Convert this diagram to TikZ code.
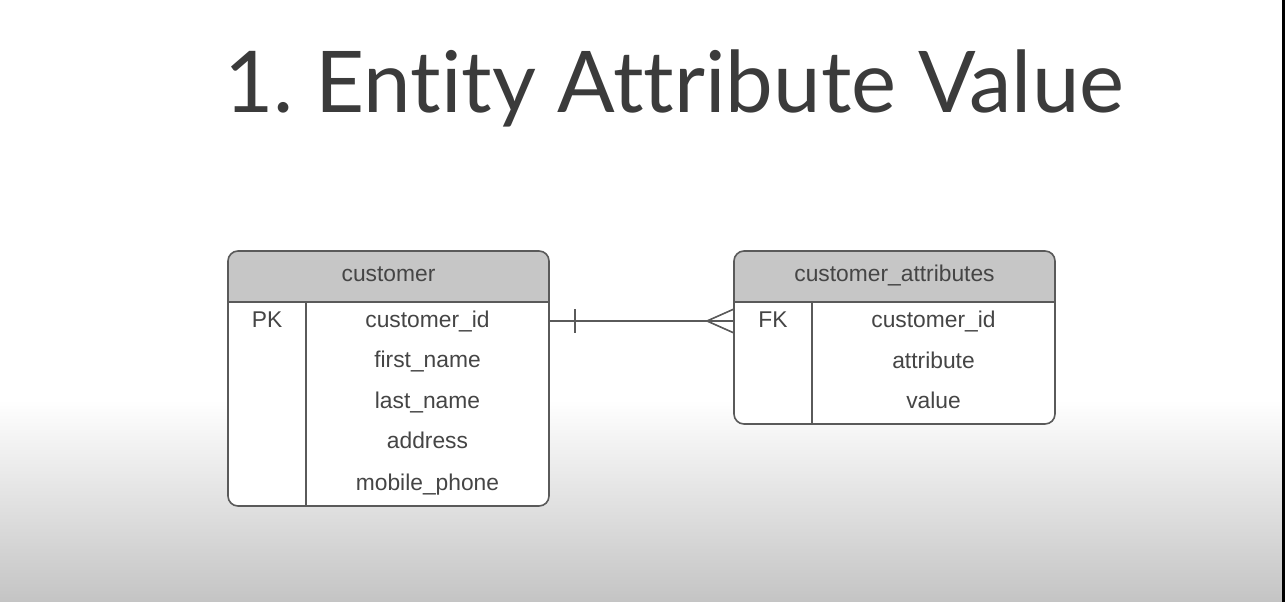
\documentclass[tikz,border=0pt]{standalone}
\usepackage{fontspec}
\setmainfont{Liberation Sans}
\newfontfamily\titlefont[Ligatures={NoCommon,NoRequired,NoContextual}]{Lato}
\definecolor{hdrgray}{HTML}{C6C6C6}
\definecolor{linegray}{HTML}{5A5A5A}
\definecolor{txtgray}{HTML}{454545}
\definecolor{titlegray}{HTML}{3B3B3B}
\definecolor{bottomgray}{HTML}{C4C4C4}
\tikzset{
  tbltext/.style={inner sep=0pt, anchor=base, text=txtgray, font=\fontsize{22.8}{27}\selectfont},
  tblborder/.style={draw=linegray, line width=1.6pt, rounded corners=10pt},
  tblline/.style={draw=linegray, line width=1.6pt},
  conn/.style={draw=linegray, line width=1.6pt},
}
\frenchspacing
\begin{document}
\begin{tikzpicture}[x=1pt,y=-1pt]
\useasboundingbox (0,0) rectangle (1285,602);
% background
\fill[white] (0,0) rectangle (1285,400);
\shade[top color=white, bottom color=bottomgray] (0,400) rectangle (1285,602);
\fill[black] (1282,0) rectangle (1285,602);
% title
\node[inner sep=0pt, anchor=base west, text=titlegray, font=\titlefont\fontsize{85.2}{90}\selectfont] (title) at (224,112.7) {1. Entity Attribute Value};

% customer table
\fill[white, rounded corners=10pt] (228,251) rectangle (549,506);
\begin{scope}
\clip (220,245) rectangle (560,302);
\fill[hdrgray, rounded corners=10pt] (228,251) rectangle (549,506);
\end{scope}
\draw[tblborder] (228,251) rectangle (549,506);
\draw[tblline] (228,302) -- (549,302);
\draw[tblline] (306,302) -- (306,506);
\node[tbltext] (custh) at (388.5,281) {customer};
\node[tbltext] (pk) at (267,327) {PK};
\node[tbltext] (cid) at (427.5,327) {customer\_id};
\node[tbltext] (fn) at (427.5,367.5) {first\_name};
\node[tbltext] (ln) at (427.5,408) {last\_name};
\node[tbltext] (addr) at (427.5,448.5) {address};
\node[tbltext] (mob) at (427.5,490) {mobile\_phone};

% customer_attributes table
\fill[white, rounded corners=10pt] (734,251) rectangle (1055,424);
\begin{scope}
\clip (725,245) rectangle (1065,302);
\fill[hdrgray, rounded corners=10pt] (734,251) rectangle (1055,424);
\end{scope}
\draw[tblborder] (734,251) rectangle (1055,424);
\draw[tblline] (734,302) -- (1055,302);
\draw[tblline] (812,302) -- (812,424);
\node[tbltext] (atth) at (894.5,281) {customer\_attributes};
\node[tbltext] (fk) at (773,327) {FK};
\node[tbltext] (acid) at (933.5,327) {customer\_id};
\node[tbltext] (attr) at (933.5,368) {attribute};
\node[tbltext] (val) at (933.5,408) {value};

% connector
\coordinate (custR) at (549,321);
\coordinate (attL) at (734,321);
\coordinate (crow) at (707,321);
\draw[conn] (custR) -- (attL);
\draw[conn] (575,309) -- (575,333);
\draw[conn] (734,309) -- (crow) -- (734,333);
\end{tikzpicture}
\end{document}
